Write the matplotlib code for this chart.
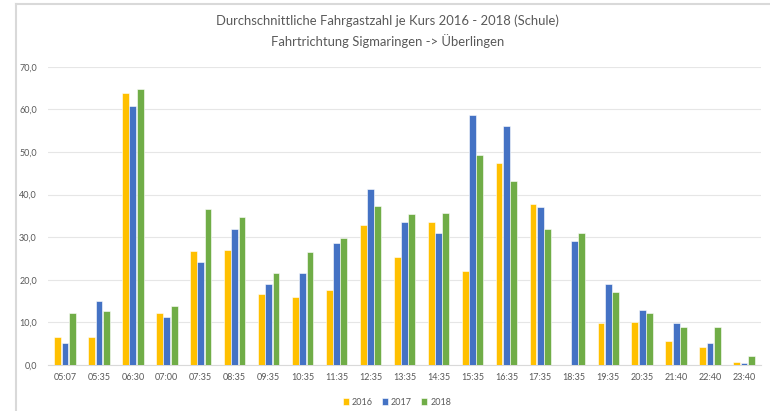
import numpy as np
import matplotlib
matplotlib.use('Agg')
import matplotlib.pyplot as plt
from matplotlib.lines import Line2D

# Data
kurse = ['05:07', '05:35', '06:30', '07:00', '07:35', '08:35', '09:35', '10:35',
         '11:35', '12:35', '13:35', '14:35', '15:35', '16:35', '17:35', '18:35',
         '19:35', '20:35', '21:40', '22:40', '23:40']
y2016 = [6.5, 6.6, 63.9, 12.1, 26.7, 26.9, 16.6, 16.0, 17.6, 32.9, 25.3,
         33.6, 22.1, 47.5, 37.8, 0.0, 9.8, 10.2, 5.6, 4.3, 0.8]
y2017 = [5.2, 15.1, 60.8, 11.3, 24.2, 32.0, 18.9, 21.7, 28.7, 41.4, 33.6,
         30.9, 58.6, 56.2, 37.1, 29.2, 19.1, 12.8, 9.9, 5.2, 0.5]
y2018 = [12.1, 12.7, 64.7, 13.8, 36.7, 34.7, 21.7, 26.4, 29.9, 37.3, 35.5,
         35.7, 49.3, 43.1, 31.8, 31.0, 17.2, 12.2, 8.9, 8.8, 2.1]
jahre = ['2016', '2017', '2018']
farben = ['#FFC000', '#4472C4', '#70AD47']

plt.rcParams['font.family'] = ['Lato', 'DejaVu Sans']
grau = '#595959'

fig = plt.figure(figsize=(7.7, 4.11), dpi=100)
fig.patch.set_facecolor('white')
ax = fig.add_axes([48 / 770, 46 / 411, (761 - 48) / 770, (365 - 66.7) / 411])

x = np.arange(len(kurse))
w = 0.2
for i, (werte, jahr, farbe) in enumerate(zip([y2016, y2017, y2018], jahre, farben)):
    ax.bar(x + (i - 1) * 0.215, werte, width=w, color=farbe, edgecolor='white',
           linewidth=0.4, label=jahr, zorder=3)

ax.set_xlim(-0.5, len(kurse) - 0.5)
ax.set_ylim(0, 70)
ax.set_yticks(np.arange(0, 71, 10))
ax.set_yticklabels([f'{v:.1f}'.replace('.', ',') for v in np.arange(0, 71, 10)])
ax.set_xticks(x)
ax.set_xticklabels(kurse)
ax.tick_params(axis='both', length=0, labelsize=6.5, labelcolor=grau)
ax.tick_params(axis='y', pad=8)
ax.tick_params(axis='x', pad=6)
ax.grid(axis='y', color='#E6E6E6', linewidth=0.8, zorder=0)
for s in ['top', 'right', 'left']:
    ax.spines[s].set_visible(False)
ax.spines['bottom'].set_color('#D9D9D9')

fig.text(0.503, 1 - 21 / 411, 'Durchschnittliche Fahrgastzahl je Kurs 2016 - 2018 (Schule)',
         ha='center', va='center', fontsize=9.4, color=grau)
fig.text(0.503, 1 - 41 / 411, 'Fahrtrichtung Sigmaringen -> Überlingen',
         ha='center', va='center', fontsize=9.4, color=grau)

ax.legend(loc='center', bbox_to_anchor=(397 / 770, 9 / 411), bbox_transform=fig.transFigure,
          ncol=3, frameon=False, fontsize=6.5, labelcolor=grau, handlelength=0.7,
          handleheight=0.7, handletextpad=0.3, columnspacing=1.0)

# chart border from the screenshot
fig.add_artist(Line2D([16 / 770, 16 / 770], [0, 1 - 4 / 411], color='#D9D9D9', linewidth=1.5))
fig.add_artist(Line2D([16 / 770, 1], [1 - 4 / 411, 1 - 4 / 411], color='#D9D9D9', linewidth=1.5))

fig.savefig('out.png', dpi=100)
